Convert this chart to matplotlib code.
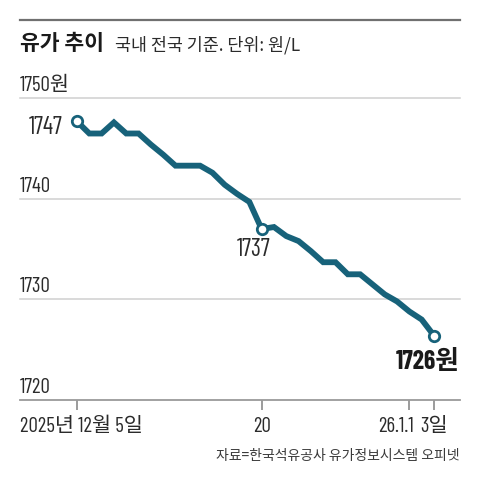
import matplotlib
matplotlib.use("Agg")
import matplotlib.pyplot as plt
from matplotlib.lines import Line2D

NUM_FONT = ['Barlow Condensed', 'Noto Sans CJK KR', 'Noto Sans CJK JP', 'DejaVu Sans']
KR_FONT = ['Noto Sans CJK KR', 'Noto Sans CJK JP', 'DejaVu Sans']
plt.rcParams['font.family'] = NUM_FONT

# Data: daily national average price (원/L), 2025-12-05 .. 2026-01-03
days = list(range(30))
prices = [1747.7, 1746.5, 1746.5, 1747.6, 1746.5, 1746.5, 1745.4, 1744.4,
          1743.3, 1743.3, 1743.3, 1742.6, 1741.4, 1740.5, 1739.7, 1737.0,
          1737.2, 1736.3, 1735.8, 1734.8, 1733.7, 1733.7, 1732.5, 1732.5,
          1731.5, 1730.5, 1729.8, 1728.8, 1728.0, 1726.4]
ytick_vals = [1720, 1730, 1740, 1750]
ytick_labels = ['1720', '1730', '1740', '1750원']
xtick_pos = [0, 15, 27, 29]
xtick_labels = ['2025년 12월 5일', '20', '26.1.1', '3일']
marked = [0, 15, 29]
marked_labels = ['1747', '1737', '1726원']

W = H = 480
fig = plt.figure(figsize=(4.8, 4.8), dpi=100)
px = lambda x: x / W
py = lambda y: 1 - y / H

ax_left, ax_right = 20, 460
ax_bottom, ax_top = 400, 98.3
ax = fig.add_axes([px(ax_left), py(ax_bottom), px(ax_right - ax_left), (ax_bottom - ax_top) / H])
ppd = (434 - 77) / 29
ax.set_xlim((ax_left - 77) / ppd, (ax_right - 77) / ppd)
ax.set_ylim(1720, 1750)

for s in ['top', 'right', 'left']:
    ax.spines[s].set_visible(False)
ax.spines['bottom'].set_color('#9a9a9a')
ax.spines['bottom'].set_linewidth(1.3)

for v in ytick_vals[1:]:
    ax.axhline(v, color='#cfcfcf', lw=1.1, zorder=1, clip_on=False)

ax.set_yticks([])
ax.set_xticks(xtick_pos)
ax.set_xticklabels([])
ax.tick_params(axis='x', direction='out', length=7, width=1.2, color='#8a8a8a')

tc = '#2b2b2b'
for v, lab in zip(ytick_vals, ytick_labels):
    ax.annotate(lab, xy=(0, v), xycoords=('axes fraction', 'data'),
                xytext=(0, 5), textcoords='offset points',
                ha='left', va='baseline', fontsize=15, color=tc)

trans = ax.get_xaxis_transform()
ax.text(0, -0.055, xtick_labels[0], transform=ax.transAxes,
        ha='left', va='top', fontsize=15, color=tc)
ax.text(xtick_pos[1], -0.055, xtick_labels[1], transform=trans, ha='center', va='top',
        fontsize=15, color=tc)
ax.text(xtick_pos[2] + 0.4, -0.055, xtick_labels[2], transform=trans, ha='right', va='top',
        fontsize=15, color=tc)
ax.text(xtick_pos[3], -0.055, xtick_labels[3], transform=trans, ha='center', va='top',
        fontsize=15, color=tc)

color = '#17627a'
ax.plot(days, prices, color=color, lw=4.2, solid_joinstyle='miter', zorder=3, clip_on=False)
ax.plot([days[i] for i in marked], [prices[i] for i in marked], 'o', ms=7.5,
        mfc='white', mec=color, mew=2, zorder=4, clip_on=False)

ax.annotate(marked_labels[0], xy=(days[0], prices[0]), xytext=(-10, -4.5), textcoords='offset points',
            ha='right', va='center', fontsize=17.5, color=tc)
ax.annotate(marked_labels[1], xy=(days[15], prices[15]), xytext=(-6, -15), textcoords='offset points',
            ha='center', va='center', fontsize=17.5, color=tc)
ax.annotate(marked_labels[2], xy=(1, prices[29]), xycoords=('axes fraction', 'data'),
            xytext=(0, -19), textcoords='offset points',
            ha='right', va='center', fontsize=18.5, fontweight='bold', color='#1a1a1a')

fig.add_artist(Line2D([px(20), px(460)], [py(20), py(20)], color='#707070', lw=1.6))
fig.text(px(20), py(43), '유가 추이', fontsize=15.5, fontweight='bold', color='#1a1a1a',
         ha='left', va='center', family=KR_FONT)
fig.text(px(115), py(45), '국내 전국 기준. 단위: 원/L', fontsize=12.5, color=tc,
         ha='left', va='center', family=KR_FONT)

fig.text(px(460), py(456), '자료=한국석유공사 유가정보시스템 오피넷', fontsize=10, color='#3a3a3a',
         ha='right', va='center', family=KR_FONT)

fig.savefig('out.png', dpi=100, facecolor='white')
